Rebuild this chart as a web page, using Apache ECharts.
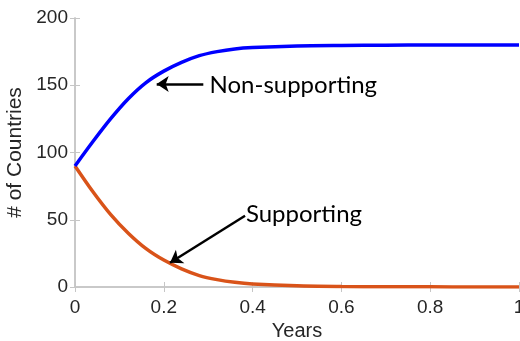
<!DOCTYPE html>
<html>
<head>
<meta charset="utf-8">
<script src="https://cdn.jsdelivr.net/npm/echarts@6/dist/echarts.min.js"></script>
<style>
html,body{margin:0;padding:0;background:#fff;}
#c{width:520px;height:341px;}
</style>
</head>
<body>
<div id="c"></div>
<script>
const years = [0, 0.04, 0.08, 0.12, 0.16, 0.2, 0.24, 0.28, 0.32, 0.36, 0.4, 0.5, 0.6, 0.7, 0.8, 0.9, 1.0];
const nonSupporting = [90, 108, 125, 140, 152, 160.5, 167, 172, 175, 177, 178, 179.2, 179.6, 179.8, 179.9, 180, 180];
const supporting = [90, 71, 54, 40, 28.5, 20, 13.5, 8.5, 5.5, 3.5, 2.3, 0.9, 0.4, 0.2, 0.1, 0, 0];
const xTicks = ['0', '0.2', '0.4', '0.6', '0.8', '1'];
const yTicks = ['0', '50', '100', '150', '200'];
const annotations = [
  {text: 'Non-supporting', from: [0.289, 151], to: [0.184, 151], textAt: [0.303, 150]},
  {text: 'Supporting', from: [0.383, 53], to: [0.214, 18], textAt: [0.385, 54]}
];

const chart = echarts.init(document.getElementById('c'), null, {renderer: 'canvas'});
const axisColor = '#c6c6c6';
const textColor = '#262626';
const tickFont = 'Liberation Sans';

function pair(xs, ys) { return xs.map((x, i) => [x, ys[i]]); }

const option = {
  animation: false,
  grid: {left: 75, right: 1, top: 18, bottom: 54, containLabel: false, outerBoundsMode: 'none'},
  xAxis: [{
    type: 'value', min: 0, max: 1, interval: 0.2,
    name: 'Years', nameLocation: 'middle', nameGap: 31,
    nameTextStyle: {color: textColor, fontSize: 20, fontFamily: tickFont},
    axisLine: {show: true, lineStyle: {color: axisColor, width: 1.5}},
    axisTick: {show: true, inside: true, length: 5, lineStyle: {color: axisColor}},
    axisLabel: {color: textColor, fontSize: 19, fontFamily: tickFont, margin: 11,
      formatter: v => xTicks[Math.round(v / 0.2)]},
    splitLine: {show: false}
  }, {
    type: 'value', min: 0, max: 1, interval: 0.2, position: 'top',
    axisLine: {show: true, lineStyle: {color: axisColor, width: 1.5}},
    axisTick: {show: true, inside: true, length: 5, lineStyle: {color: axisColor}},
    axisLabel: {show: false}, splitLine: {show: false}
  }],
  yAxis: [{
    type: 'value', min: 0, max: 200, interval: 50,
    name: '# of Countries', nameLocation: 'middle', nameGap: 45,
    nameTextStyle: {color: textColor, fontSize: 21, fontFamily: tickFont},
    axisLine: {show: true, lineStyle: {color: axisColor, width: 1.5}},
    axisTick: {show: true, inside: true, length: 5, lineStyle: {color: axisColor}},
    axisLabel: {color: textColor, fontSize: 19, fontFamily: tickFont, margin: 7,
      formatter: v => yTicks[Math.round(v / 50)]},
    splitLine: {show: false}
  }, {
    type: 'value', min: 0, max: 200, interval: 50, position: 'right',
    axisLine: {show: true, lineStyle: {color: axisColor, width: 1.5}},
    axisTick: {show: true, inside: true, length: 5, lineStyle: {color: axisColor}},
    axisLabel: {show: false}, splitLine: {show: false}
  }],
  series: [{
    name: 'Supporting', type: 'line', data: pair(years, supporting),
    smooth: 0.3, showSymbol: false, lineStyle: {color: '#d95319', width: 3.5}
  }, {
    name: 'Non-supporting', type: 'line', data: pair(years, nonSupporting),
    smooth: 0.3, showSymbol: false, lineStyle: {color: '#0000ff', width: 3.5},
    markLine: {
      silent: true, animation: false,
      symbol: ['none', 'arrow'], symbolSize: [0, 12],
      label: {show: false},
      lineStyle: {color: '#000', width: 2.5, type: 'solid'},
      data: annotations.map(a => [{coord: a.from, symbol: 'none'}, {coord: a.to, symbol: 'arrow', symbolSize: 12}])
    }
  }]
};
chart.setOption(option);

const graphics = annotations.map(a => {
  const p = chart.convertToPixel({gridIndex: 0}, a.textAt);
  return {
    type: 'text', x: p[0], y: p[1],
    style: {text: a.text, fill: '#000', font: '24px Lato', textVerticalAlign: 'middle', textAlign: 'left'}
  };
});
chart.setOption({graphic: graphics});
</script>
</body>
</html>
